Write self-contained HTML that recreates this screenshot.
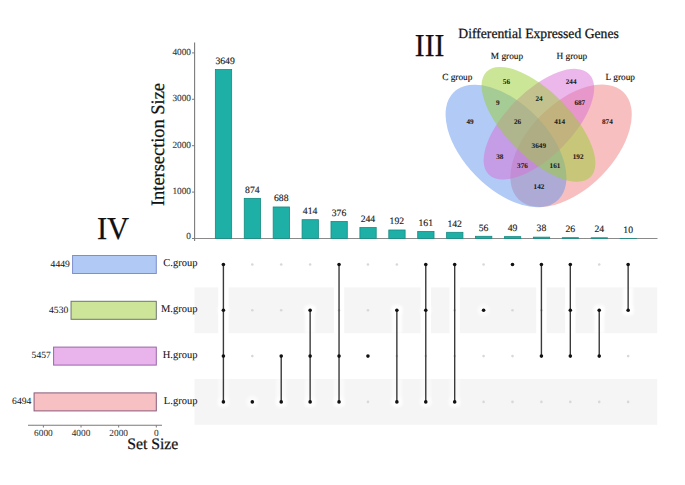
<!DOCTYPE html><html><head><meta charset="utf-8"><style>html,body{margin:0;padding:0;background:#fff;}svg{display:block;}text{font-family:"Liberation Serif",serif;stroke-width:0.06px;text-rendering:geometricPrecision;} text.big{stroke-width:0.25px;} text.mid{stroke-width:0.14px;}</style></head><body>
<svg width="685" height="485" viewBox="0 0 685 485">
<rect width="685" height="485" fill="#fff"/>
<rect x="194.50" y="287.4" width="23.70" height="45.80" fill="#f5f5f5"/>
<rect x="228.60" y="287.4" width="105.24" height="45.80" fill="#f5f5f5"/>
<rect x="344.24" y="287.4" width="76.33" height="45.80" fill="#f5f5f5"/>
<rect x="430.97" y="287.4" width="18.51" height="45.80" fill="#f5f5f5"/>
<rect x="459.88" y="287.4" width="76.33" height="45.80" fill="#f5f5f5"/>
<rect x="546.61" y="287.4" width="18.51" height="45.80" fill="#f5f5f5"/>
<rect x="575.52" y="287.4" width="81.68" height="45.80" fill="#f5f5f5"/>
<rect x="194.50" y="379.0" width="462.70" height="45.80" fill="#f5f5f5"/>
<defs><radialGradient id="hal"><stop offset="0" stop-color="#fff" stop-opacity="0.85"/><stop offset="0.5" stop-color="#fff" stop-opacity="0.6"/><stop offset="1" stop-color="#fff" stop-opacity="0"/></radialGradient><filter id="bl" x="-50%" y="-50%" width="200%" height="200%"><feGaussianBlur stdDeviation="1.2"/></filter></defs>
<g filter="url(#bl)">
<rect x="218.40" y="379.00" width="10" height="26.90" fill="#fff" fill-opacity="0.55"/>
<rect x="276.22" y="379.00" width="10" height="26.90" fill="#fff" fill-opacity="0.55"/>
<rect x="305.13" y="306.30" width="10" height="26.90" fill="#fff" fill-opacity="0.9"/>
<rect x="305.13" y="379.00" width="10" height="26.90" fill="#fff" fill-opacity="0.55"/>
<rect x="334.04" y="379.00" width="10" height="26.90" fill="#fff" fill-opacity="0.55"/>
<rect x="391.86" y="306.30" width="10" height="26.90" fill="#fff" fill-opacity="0.9"/>
<rect x="391.86" y="379.00" width="10" height="26.90" fill="#fff" fill-opacity="0.55"/>
<rect x="420.77" y="379.00" width="10" height="26.90" fill="#fff" fill-opacity="0.55"/>
<rect x="449.68" y="379.00" width="10" height="26.90" fill="#fff" fill-opacity="0.55"/>
<rect x="594.23" y="306.30" width="10" height="26.90" fill="#fff" fill-opacity="0.9"/>
<rect x="623.14" y="287.40" width="10" height="26.90" fill="#fff" fill-opacity="0.9"/>
</g>
<circle cx="223.40" cy="310.3" r="8" fill="url(#hal)"/>
<circle cx="223.40" cy="401.9" r="8" fill="url(#hal)"/>
<circle cx="252.31" cy="401.9" r="8" fill="url(#hal)"/>
<circle cx="281.22" cy="401.9" r="8" fill="url(#hal)"/>
<circle cx="310.13" cy="310.3" r="8" fill="url(#hal)"/>
<circle cx="310.13" cy="401.9" r="8" fill="url(#hal)"/>
<circle cx="339.04" cy="401.9" r="8" fill="url(#hal)"/>
<circle cx="396.86" cy="310.3" r="8" fill="url(#hal)"/>
<circle cx="396.86" cy="401.9" r="8" fill="url(#hal)"/>
<circle cx="425.77" cy="310.3" r="8" fill="url(#hal)"/>
<circle cx="425.77" cy="401.9" r="8" fill="url(#hal)"/>
<circle cx="454.68" cy="401.9" r="8" fill="url(#hal)"/>
<circle cx="483.59" cy="310.3" r="8" fill="url(#hal)"/>
<circle cx="570.32" cy="310.3" r="8" fill="url(#hal)"/>
<circle cx="599.23" cy="310.3" r="8" fill="url(#hal)"/>
<circle cx="628.14" cy="310.3" r="8" fill="url(#hal)"/>
<line x1="194.6" y1="42.5" x2="194.6" y2="241" stroke="#7a7a7a" stroke-width="1.1"/>
<line x1="194" y1="238.5" x2="657.5" y2="238.5" stroke="#8a8a8a" stroke-width="1.2"/>
<line x1="192" y1="238.50" x2="194.6" y2="238.50" stroke="#7a7a7a" stroke-width="1"/>
<text x="191" y="239.10" font-size="9.3" fill="#3a3a3a" stroke="#3a3a3a" class="mid" text-anchor="end">0</text>
<line x1="192" y1="192.10" x2="194.6" y2="192.10" stroke="#7a7a7a" stroke-width="1"/>
<text x="191" y="194.00" font-size="9.3" fill="#3a3a3a" stroke="#3a3a3a" class="mid" text-anchor="end">1000</text>
<line x1="192" y1="145.70" x2="194.6" y2="145.70" stroke="#7a7a7a" stroke-width="1"/>
<text x="191" y="147.60" font-size="9.3" fill="#3a3a3a" stroke="#3a3a3a" class="mid" text-anchor="end">2000</text>
<line x1="192" y1="99.30" x2="194.6" y2="99.30" stroke="#7a7a7a" stroke-width="1"/>
<text x="191" y="101.20" font-size="9.3" fill="#3a3a3a" stroke="#3a3a3a" class="mid" text-anchor="end">3000</text>
<line x1="192" y1="52.90" x2="194.6" y2="52.90" stroke="#7a7a7a" stroke-width="1"/>
<text x="191" y="54.80" font-size="9.3" fill="#3a3a3a" stroke="#3a3a3a" class="mid" text-anchor="end">4000</text>
<rect x="215.35" y="69.59" width="16.3" height="168.91" fill="#1eb0a7" stroke="#158a80" stroke-width="0.8"/>
<text x="225.10" y="63.89" font-size="9.7" fill="#1a1a1a" stroke="#1a1a1a" class="mid" text-anchor="middle">3649</text>
<rect x="244.26" y="198.35" width="16.3" height="40.15" fill="#1eb0a7" stroke="#158a80" stroke-width="0.8"/>
<text x="252.31" y="192.65" font-size="9.7" fill="#1a1a1a" stroke="#1a1a1a" class="mid" text-anchor="middle">874</text>
<rect x="273.17" y="206.98" width="16.3" height="31.52" fill="#1eb0a7" stroke="#158a80" stroke-width="0.8"/>
<text x="281.22" y="201.28" font-size="9.7" fill="#1a1a1a" stroke="#1a1a1a" class="mid" text-anchor="middle">688</text>
<rect x="302.08" y="219.69" width="16.3" height="18.81" fill="#1eb0a7" stroke="#158a80" stroke-width="0.8"/>
<text x="310.13" y="213.99" font-size="9.7" fill="#1a1a1a" stroke="#1a1a1a" class="mid" text-anchor="middle">414</text>
<rect x="330.99" y="221.45" width="16.3" height="17.05" fill="#1eb0a7" stroke="#158a80" stroke-width="0.8"/>
<text x="339.04" y="215.75" font-size="9.7" fill="#1a1a1a" stroke="#1a1a1a" class="mid" text-anchor="middle">376</text>
<rect x="359.90" y="227.58" width="16.3" height="10.92" fill="#1eb0a7" stroke="#158a80" stroke-width="0.8"/>
<text x="367.95" y="221.88" font-size="9.7" fill="#1a1a1a" stroke="#1a1a1a" class="mid" text-anchor="middle">244</text>
<rect x="388.81" y="229.99" width="16.3" height="8.51" fill="#1eb0a7" stroke="#158a80" stroke-width="0.8"/>
<text x="396.86" y="224.29" font-size="9.7" fill="#1a1a1a" stroke="#1a1a1a" class="mid" text-anchor="middle">192</text>
<rect x="417.72" y="231.43" width="16.3" height="7.07" fill="#1eb0a7" stroke="#158a80" stroke-width="0.8"/>
<text x="425.77" y="225.73" font-size="9.7" fill="#1a1a1a" stroke="#1a1a1a" class="mid" text-anchor="middle">161</text>
<rect x="446.63" y="232.31" width="16.3" height="6.19" fill="#1eb0a7" stroke="#158a80" stroke-width="0.8"/>
<text x="454.68" y="226.61" font-size="9.7" fill="#1a1a1a" stroke="#1a1a1a" class="mid" text-anchor="middle">142</text>
<rect x="475.54" y="236.30" width="16.3" height="2.20" fill="#1eb0a7" stroke="#158a80" stroke-width="0.8"/>
<text x="483.59" y="230.60" font-size="9.7" fill="#1a1a1a" stroke="#1a1a1a" class="mid" text-anchor="middle">56</text>
<rect x="504.45" y="236.63" width="16.3" height="1.87" fill="#1eb0a7" stroke="#158a80" stroke-width="0.8"/>
<text x="512.50" y="230.93" font-size="9.7" fill="#1a1a1a" stroke="#1a1a1a" class="mid" text-anchor="middle">49</text>
<rect x="533.36" y="237.14" width="16.3" height="1.36" fill="#1eb0a7" stroke="#158a80" stroke-width="0.8"/>
<text x="541.41" y="231.44" font-size="9.7" fill="#1a1a1a" stroke="#1a1a1a" class="mid" text-anchor="middle">38</text>
<rect x="562.27" y="237.69" width="16.3" height="0.81" fill="#1eb0a7" stroke="#158a80" stroke-width="0.8"/>
<text x="570.32" y="231.99" font-size="9.7" fill="#1a1a1a" stroke="#1a1a1a" class="mid" text-anchor="middle">26</text>
<rect x="591.18" y="237.79" width="16.3" height="0.71" fill="#1eb0a7" stroke="#158a80" stroke-width="0.8"/>
<text x="599.23" y="232.09" font-size="9.7" fill="#1a1a1a" stroke="#1a1a1a" class="mid" text-anchor="middle">24</text>
<rect x="620.09" y="238.44" width="16.3" height="0.06" fill="#1eb0a7" stroke="#158a80" stroke-width="0.8"/>
<text x="628.14" y="232.74" font-size="9.7" fill="#1a1a1a" stroke="#1a1a1a" class="mid" text-anchor="middle">10</text>
<text class="big" transform="translate(164.2,206) rotate(-90)" font-size="19" fill="#111" stroke="#111" textLength="123" lengthAdjust="spacingAndGlyphs">Intersection Size</text>
<line x1="223.40" y1="264.5" x2="223.40" y2="401.9" stroke="#3a3a3a" stroke-width="1.4"/>
<circle cx="223.40" cy="264.5" r="1.8" fill="#111"/>
<circle cx="223.40" cy="310.3" r="1.8" fill="#111"/>
<circle cx="223.40" cy="356.1" r="1.8" fill="#111"/>
<circle cx="223.40" cy="401.9" r="1.8" fill="#111"/>
<circle cx="252.31" cy="264.5" r="1.3" fill="#d8d8d8"/>
<circle cx="252.31" cy="310.3" r="1.3" fill="#d8d8d8"/>
<circle cx="252.31" cy="356.1" r="1.3" fill="#d8d8d8"/>
<circle cx="252.31" cy="401.9" r="1.8" fill="#111"/>
<circle cx="281.22" cy="264.5" r="1.3" fill="#d8d8d8"/>
<circle cx="281.22" cy="310.3" r="1.3" fill="#d8d8d8"/>
<line x1="281.22" y1="356.1" x2="281.22" y2="401.9" stroke="#3a3a3a" stroke-width="1.4"/>
<circle cx="281.22" cy="356.1" r="1.8" fill="#111"/>
<circle cx="281.22" cy="401.9" r="1.8" fill="#111"/>
<circle cx="310.13" cy="264.5" r="1.3" fill="#d8d8d8"/>
<line x1="310.13" y1="310.3" x2="310.13" y2="401.9" stroke="#3a3a3a" stroke-width="1.4"/>
<circle cx="310.13" cy="310.3" r="1.8" fill="#111"/>
<circle cx="310.13" cy="356.1" r="1.8" fill="#111"/>
<circle cx="310.13" cy="401.9" r="1.8" fill="#111"/>
<circle cx="339.04" cy="310.3" r="1.3" fill="#d8d8d8"/>
<line x1="339.04" y1="264.5" x2="339.04" y2="401.9" stroke="#3a3a3a" stroke-width="1.4"/>
<circle cx="339.04" cy="264.5" r="1.8" fill="#111"/>
<circle cx="339.04" cy="356.1" r="1.8" fill="#111"/>
<circle cx="339.04" cy="401.9" r="1.8" fill="#111"/>
<circle cx="367.95" cy="264.5" r="1.3" fill="#d8d8d8"/>
<circle cx="367.95" cy="310.3" r="1.3" fill="#d8d8d8"/>
<circle cx="367.95" cy="401.9" r="1.3" fill="#d8d8d8"/>
<circle cx="367.95" cy="356.1" r="1.8" fill="#111"/>
<circle cx="396.86" cy="264.5" r="1.3" fill="#d8d8d8"/>
<circle cx="396.86" cy="356.1" r="1.3" fill="#d8d8d8"/>
<line x1="396.86" y1="310.3" x2="396.86" y2="401.9" stroke="#3a3a3a" stroke-width="1.4"/>
<circle cx="396.86" cy="310.3" r="1.8" fill="#111"/>
<circle cx="396.86" cy="401.9" r="1.8" fill="#111"/>
<circle cx="425.77" cy="356.1" r="1.3" fill="#d8d8d8"/>
<line x1="425.77" y1="264.5" x2="425.77" y2="401.9" stroke="#3a3a3a" stroke-width="1.4"/>
<circle cx="425.77" cy="264.5" r="1.8" fill="#111"/>
<circle cx="425.77" cy="310.3" r="1.8" fill="#111"/>
<circle cx="425.77" cy="401.9" r="1.8" fill="#111"/>
<circle cx="454.68" cy="310.3" r="1.3" fill="#d8d8d8"/>
<circle cx="454.68" cy="356.1" r="1.3" fill="#d8d8d8"/>
<line x1="454.68" y1="264.5" x2="454.68" y2="401.9" stroke="#3a3a3a" stroke-width="1.4"/>
<circle cx="454.68" cy="264.5" r="1.8" fill="#111"/>
<circle cx="454.68" cy="401.9" r="1.8" fill="#111"/>
<circle cx="483.59" cy="264.5" r="1.3" fill="#d8d8d8"/>
<circle cx="483.59" cy="356.1" r="1.3" fill="#d8d8d8"/>
<circle cx="483.59" cy="401.9" r="1.3" fill="#d8d8d8"/>
<circle cx="483.59" cy="310.3" r="1.8" fill="#111"/>
<circle cx="512.50" cy="310.3" r="1.3" fill="#d8d8d8"/>
<circle cx="512.50" cy="356.1" r="1.3" fill="#d8d8d8"/>
<circle cx="512.50" cy="401.9" r="1.3" fill="#d8d8d8"/>
<circle cx="512.50" cy="264.5" r="1.8" fill="#111"/>
<circle cx="541.41" cy="310.3" r="1.3" fill="#d8d8d8"/>
<circle cx="541.41" cy="401.9" r="1.3" fill="#d8d8d8"/>
<line x1="541.41" y1="264.5" x2="541.41" y2="356.1" stroke="#3a3a3a" stroke-width="1.4"/>
<circle cx="541.41" cy="264.5" r="1.8" fill="#111"/>
<circle cx="541.41" cy="356.1" r="1.8" fill="#111"/>
<circle cx="570.32" cy="401.9" r="1.3" fill="#d8d8d8"/>
<line x1="570.32" y1="264.5" x2="570.32" y2="356.1" stroke="#3a3a3a" stroke-width="1.4"/>
<circle cx="570.32" cy="264.5" r="1.8" fill="#111"/>
<circle cx="570.32" cy="310.3" r="1.8" fill="#111"/>
<circle cx="570.32" cy="356.1" r="1.8" fill="#111"/>
<circle cx="599.23" cy="264.5" r="1.3" fill="#d8d8d8"/>
<circle cx="599.23" cy="401.9" r="1.3" fill="#d8d8d8"/>
<line x1="599.23" y1="310.3" x2="599.23" y2="356.1" stroke="#3a3a3a" stroke-width="1.4"/>
<circle cx="599.23" cy="310.3" r="1.8" fill="#111"/>
<circle cx="599.23" cy="356.1" r="1.8" fill="#111"/>
<circle cx="628.14" cy="356.1" r="1.3" fill="#d8d8d8"/>
<circle cx="628.14" cy="401.9" r="1.3" fill="#d8d8d8"/>
<line x1="628.14" y1="264.5" x2="628.14" y2="310.3" stroke="#3a3a3a" stroke-width="1.4"/>
<circle cx="628.14" cy="264.5" r="1.8" fill="#111"/>
<circle cx="628.14" cy="310.3" r="1.8" fill="#111"/>
<rect x="72.57" y="255.50" width="83.73" height="18" fill="#b0c9f5" stroke="#7f8fcc" stroke-width="1"/>
<text x="69.77" y="266.80" font-size="9.6" fill="#222" stroke="#222" text-anchor="end">4449</text>
<text x="197.4" y="266.40" font-size="10.5" fill="#111" stroke="#111" text-anchor="end">C.group</text>
<rect x="71.05" y="301.30" width="85.25" height="18" fill="#cce598" stroke="#6e7670" stroke-width="1"/>
<text x="68.25" y="312.60" font-size="9.6" fill="#222" stroke="#222" text-anchor="end">4530</text>
<text x="197.4" y="312.20" font-size="10.5" fill="#111" stroke="#111" text-anchor="end">M.group</text>
<rect x="53.60" y="347.10" width="102.70" height="18" fill="#e9b3ec" stroke="#9a66aa" stroke-width="1"/>
<text x="50.80" y="358.40" font-size="9.6" fill="#222" stroke="#222" text-anchor="end">5457</text>
<text x="197.4" y="358.00" font-size="10.5" fill="#111" stroke="#111" text-anchor="end">H.group</text>
<rect x="34.08" y="392.90" width="122.22" height="18" fill="#f7c0c2" stroke="#8a5a78" stroke-width="1"/>
<text x="31.28" y="404.20" font-size="9.6" fill="#222" stroke="#222" text-anchor="end">6494</text>
<text x="197.4" y="403.80" font-size="10.5" fill="#111" stroke="#111" text-anchor="end">L.group</text>
<line x1="28" y1="425.2" x2="162" y2="425.2" stroke="#7a7a7a" stroke-width="1.1"/>
<line x1="43.38" y1="425.2" x2="43.38" y2="427.5" stroke="#7a7a7a" stroke-width="1"/>
<text x="43.38" y="435.8" font-size="9.3" fill="#333" stroke="#333" text-anchor="middle">6000</text>
<line x1="81.02" y1="425.2" x2="81.02" y2="427.5" stroke="#7a7a7a" stroke-width="1"/>
<text x="81.02" y="435.8" font-size="9.3" fill="#333" stroke="#333" text-anchor="middle">4000</text>
<line x1="118.66" y1="425.2" x2="118.66" y2="427.5" stroke="#7a7a7a" stroke-width="1"/>
<text x="118.66" y="435.8" font-size="9.3" fill="#333" stroke="#333" text-anchor="middle">2000</text>
<line x1="156.30" y1="425.2" x2="156.30" y2="427.5" stroke="#7a7a7a" stroke-width="1"/>
<text x="156.30" y="435.8" font-size="9.3" fill="#333" stroke="#333" text-anchor="middle">0</text>
<text class="big" x="127.2" y="449" font-size="16" fill="#111" stroke="#111" textLength="51" lengthAdjust="spacingAndGlyphs">Set Size</text>
<text class="big" x="96.9" y="239" font-size="32" fill="#111" stroke="#111" textLength="32.2" lengthAdjust="spacingAndGlyphs">IV</text>
<text class="big" x="414.8" y="55.8" font-size="32" fill="#111" stroke="#111" textLength="29.6" lengthAdjust="spacingAndGlyphs">III</text>
<text class="big" x="458.3" y="38.1" font-size="14" fill="#111" stroke="#111" textLength="160.5" lengthAdjust="spacingAndGlyphs">Differential Expressed Genes</text>
<ellipse cx="571.06" cy="145.77" rx="74.9" ry="42.7" transform="rotate(-45.5 571.06 145.77)" fill="#f08080" fill-opacity="0.5"/>
<ellipse cx="506.00" cy="146.00" rx="74.9" ry="42.4" transform="rotate(45.76 506.00 146.00)" fill="#6495ed" fill-opacity="0.5"/>
<ellipse cx="538.90" cy="124.20" rx="71.0" ry="32.73" transform="rotate(-45.07 538.90 124.20)" fill="#da70d6" fill-opacity="0.5"/>
<ellipse cx="538.47" cy="124.36" rx="73.96" ry="32.54" transform="rotate(45.39 538.47 124.36)" fill="#9acd32" fill-opacity="0.5"/>
<text x="506.4" y="83.80" font-size="7.2" font-weight="bold" fill="#1a1a1a" stroke="#1a1a1a" text-anchor="middle">56</text>
<text x="571.1" y="83.80" font-size="7.2" font-weight="bold" fill="#1a1a1a" stroke="#1a1a1a" text-anchor="middle">244</text>
<text x="497.7" y="105.30" font-size="7.2" font-weight="bold" fill="#1a1a1a" stroke="#1a1a1a" text-anchor="middle">9</text>
<text x="539" y="100.70" font-size="7.2" font-weight="bold" fill="#1a1a1a" stroke="#1a1a1a" text-anchor="middle">24</text>
<text x="579.8" y="105.30" font-size="7.2" font-weight="bold" fill="#1a1a1a" stroke="#1a1a1a" text-anchor="middle">687</text>
<text x="470.1" y="124.20" font-size="7.2" font-weight="bold" fill="#1a1a1a" stroke="#1a1a1a" text-anchor="middle">49</text>
<text x="517.5" y="124.20" font-size="7.2" font-weight="bold" fill="#1a1a1a" stroke="#1a1a1a" text-anchor="middle">26</text>
<text x="559.6" y="124.20" font-size="7.2" font-weight="bold" fill="#1a1a1a" stroke="#1a1a1a" text-anchor="middle">414</text>
<text x="607.4" y="124.20" font-size="7.2" font-weight="bold" fill="#1a1a1a" stroke="#1a1a1a" text-anchor="middle">874</text>
<text x="538.8" y="148.20" font-size="7.2" font-weight="bold" fill="#1a1a1a" stroke="#1a1a1a" text-anchor="middle">3649</text>
<text x="499.8" y="158.50" font-size="7.2" font-weight="bold" fill="#1a1a1a" stroke="#1a1a1a" text-anchor="middle">38</text>
<text x="578.1" y="158.50" font-size="7.2" font-weight="bold" fill="#1a1a1a" stroke="#1a1a1a" text-anchor="middle">192</text>
<text x="522.5" y="167.90" font-size="7.2" font-weight="bold" fill="#1a1a1a" stroke="#1a1a1a" text-anchor="middle">376</text>
<text x="555" y="167.90" font-size="7.2" font-weight="bold" fill="#1a1a1a" stroke="#1a1a1a" text-anchor="middle">161</text>
<text x="539" y="189.40" font-size="7.2" font-weight="bold" fill="#1a1a1a" stroke="#1a1a1a" text-anchor="middle">142</text>
<text x="442.2" y="79.80" font-size="9.3" fill="#111" stroke="#111" class="mid">C group</text>
<text x="490.8" y="58.80" font-size="9.3" fill="#111" stroke="#111" class="mid">M group</text>
<text x="556.5" y="58.80" font-size="9.3" fill="#111" stroke="#111" class="mid">H group</text>
<text x="605.6" y="79.80" font-size="9.3" fill="#111" stroke="#111" class="mid">L group</text>
</svg></body></html>
